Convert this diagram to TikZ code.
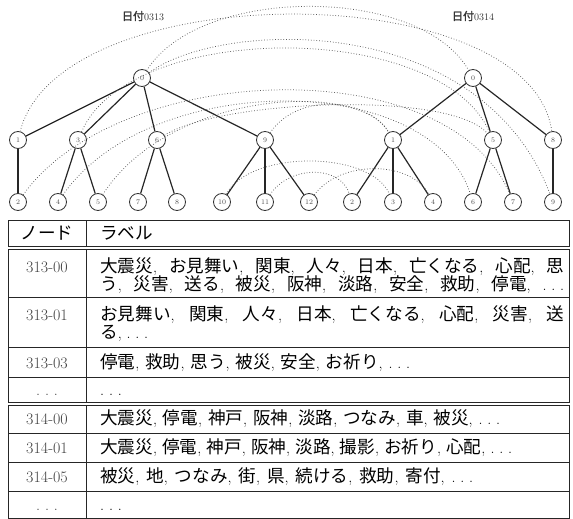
\documentclass[tikz,border=0pt]{standalone}
\usepackage{fontspec}
\newfontfamily\jp[Scale=1.1]{Noto Sans CJK JP}
\newfontfamily\jpb[Scale=1.1,FakeBold=2]{Noto Sans CJK JP}
\newcommand\jj[1]{{\jp #1}}
\newcommand\dd{.\kern0.3em.\kern0.3em.}
\newcommand\fitw[2]{\makebox[#1][s]{#2}}
\begin{document}
\begin{tikzpicture}[x=1pt,y=-1pt,
  tn/.style={circle, draw=black!80, line width=0.8pt, minimum size=17pt, inner sep=0pt,
     font=\fontsize{7}{8}\selectfont, text=black!70},
  te/.style={line width=1.2pt, draw=black!85},
  dl/.style={dotted, line width=0.75pt, draw=black!65},
  tb/.style={line width=0.9pt, draw=black!85},
  code/.style={anchor=base, font=\fontsize{16}{18}\selectfont, text=black!75},
  lab/.style={anchor=base west, inner sep=0pt, font=\fontsize{16}{18}\selectfont},
  ttl/.style={font=\fontsize{10}{11}\selectfont, text=black!80}]
\useasboundingbox (0,0) rectangle (573,519);
% titles
\node[ttl] (t1) at (143,16) {{\jpb 日付}0313};
\node[ttl] (t2) at (473,16) {{\jpb 日付}0314};
% left tree
\node[tn] (L0) at (142,78) {0};
\node[tn] (L1) at (18,140) {1};
\node[tn] (L3) at (78,140) {3};
\node[tn] (L6) at (157,140) {6};
\node[tn] (L9) at (265,140) {9};
\node[tn] (L2) at (18,202) {2};
\node[tn] (L4) at (58,202) {4};
\node[tn] (L5) at (98,202) {5};
\node[tn] (L7) at (138,202) {7};
\node[tn] (L8) at (177,202) {8};
\node[tn] (L10) at (222,202) {10};
\node[tn] (L11) at (265,202) {11};
\node[tn] (L12) at (309,202) {12};
% right tree
\node[tn] (R0) at (473,78) {0};
\node[tn] (R1) at (393,140) {1};
\node[tn] (R5) at (493,140) {5};
\node[tn] (R8) at (553,140) {8};
\node[tn] (R2) at (352,202) {2};
\node[tn] (R3) at (393,202) {3};
\node[tn] (R4) at (433,202) {4};
\node[tn] (R6) at (473,202) {6};
\node[tn] (R7) at (513,202) {7};
\node[tn] (R9) at (553,202) {9};
% tree edges
\foreach \a/\b in {L0/L1,L0/L3,L0/L6,L0/L9,L1/L2,L3/L4,L3/L5,L6/L7,L6/L8,L9/L10,L9/L11,L9/L12,
  R0/R1,R0/R5,R0/R8,R1/R2,R1/R3,R1/R4,R5/R6,R5/R7,R8/R9}
  \draw[te] (\a) -- (\b);
% dotted correspondences
\draw[dl] (L0) .. controls (200,-15) and (420,-15) .. (R0);
\draw[dl] (L1) .. controls (60,-25) and (530,-25) .. (R8);
\draw[dl] (L0) .. controls (220,20) and (480,10) .. (R9);
\draw[dl] (L3) .. controls (130,20) and (440,20) .. (R5);
\draw[dl] (L2) .. controls (120,60) and (450,50) .. (R7);
\draw[dl] (L4) .. controls (150,70) and (430,70) .. (R6);
\draw[dl] (L5) .. controls (170,90) and (360,80) .. (R1);
\draw[dl] (L6) .. controls (220,100) and (450,90) .. (R5);
\draw[dl] (L9) .. controls (300,90) and (370,100) .. (R1);
\draw[dl] (L10) .. controls (250,150) and (370,150) .. (R3);
\draw[dl] (L11) .. controls (290,165) and (340,165) .. (R2);
\draw[dl] (L12) .. controls (340,160) and (410,160) .. (R4);
% table boxes
\draw[tb] (8,220) rectangle (569,246);
\draw[tb] (86,220) -- (86,246);
\draw[tb] (8,249) rectangle (569,402);
\draw[tb] (86,249) -- (86,402);
\draw[tb] (8,297) -- (569,297);
\draw[tb] (8,347) -- (569,347);
\draw[tb] (8,377) -- (569,377);
\draw[tb] (8,405) rectangle (569,518);
\draw[tb] (86,405) -- (86,518);
\draw[tb] (8,433) -- (569,433);
\draw[tb] (8,462) -- (569,462);
\draw[tb] (8,491) -- (569,491);
% header
\node[lab, anchor=base] (h1) at (47,239) {\jj{ノード}};
\node[lab] (h2) at (100,239) {\jj{ラベル}};
% rows
\node[code] (c1) at (47,272) {313-00};
\node[lab] (l1a) at (100,272) {\fitw{464pt}{\jj{大震災}, \jj{お見舞い}, \jj{関東}, \jj{人々}, \jj{日本}, \jj{亡くなる}, \jj{心配}, \jj{思}}};
\node[lab] (l1b) at (100,290) {\fitw{464pt}{\jj{う}, \jj{災害}, \jj{送る}, \jj{被災}, \jj{阪神}, \jj{淡路}, \jj{安全}, \jj{救助}, \jj{停電}, \dd}};
\node[code] (c2) at (47,320) {313-01};
\node[lab] (l2a) at (100,320) {\fitw{464pt}{\jj{お見舞い}, \jj{関東}, \jj{人々}, \jj{日本}, \jj{亡くなる}, \jj{心配}, \jj{災害}, \jj{送}}};
\node[lab] (l2b) at (100,338) {\jj{る}, \dd};
\node[code] (c3) at (47,368) {313-03};
\node[lab] (l3) at (100,368) {\fitw{310pt}{\jj{停電}, \jj{救助}, \jj{思う}, \jj{被災}, \jj{安全}, \jj{お祈り}, \dd}};
\node[code] (c4) at (47,395) {\dd};
\node[lab] (l4) at (100,395) {\dd};
\node[code] (c5) at (47,424) {314-00};
\node[lab] (l5) at (100,424) {\fitw{400pt}{\jj{大震災}, \jj{停電}, \jj{神戸}, \jj{阪神}, \jj{淡路}, \jj{つなみ}, \jj{車}, \jj{被災}, \dd}};
\node[code] (c6) at (47,453) {314-01};
\node[lab] (l6) at (100,453) {\fitw{412pt}{\jj{大震災}, \jj{停電}, \jj{神戸}, \jj{阪神}, \jj{淡路}, \jj{撮影}, \jj{お祈り}, \jj{心配}, \dd}};
\node[code] (c7) at (47,482) {314-05};
\node[lab] (l7) at (100,482) {\fitw{373pt}{\jj{被災}, \jj{地}, \jj{つなみ}, \jj{街}, \jj{県}, \jj{続ける}, \jj{救助}, \jj{寄付}, \dd}};
\node[code] (c8) at (47,510) {\dd};
\node[lab] (l8) at (100,510) {\dd};
\end{tikzpicture}
\end{document}
